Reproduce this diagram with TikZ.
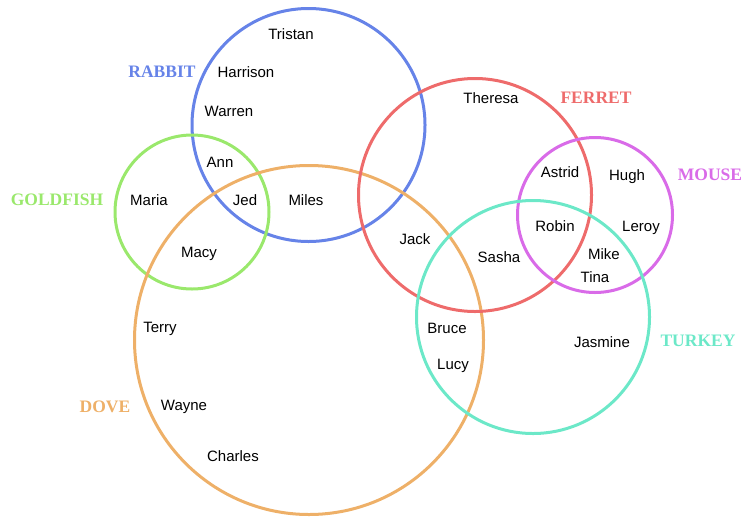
\documentclass[tikz,border=0pt]{standalone}
\usepackage{fontspec}
\setmainfont{Liberation Serif}
\newfontfamily\namefont{Liberation Sans}
\definecolor{rabbit}{HTML}{6683E8}
\definecolor{goldfish}{HTML}{9AE86C}
\definecolor{dove}{HTML}{EEB068}
\definecolor{ferret}{HTML}{EE6B6B}
\definecolor{mouse}{HTML}{D96BE8}
\definecolor{turkey}{HTML}{6CE8C8}
\begin{document}
\begin{tikzpicture}[x=1pt,y=-1pt,line width=3pt]
      \tikzset{
        set/.style={circle,draw=#1,inner sep=0pt},
        tag/.style={text=#1,anchor=base,font=\fontsize{17.5}{17.5}\selectfont\bfseries},
        who/.style={anchor=base,font=\namefont\fontsize{15}{15}\selectfont}
      }
      \useasboundingbox (0,0) rectangle (746,517);
      % sets
      \node[set=rabbit,minimum size=233pt] (rabbit) at (308.5,125) {};
      \node[set=goldfish,minimum size=154pt] (goldfish) at (192,212) {};
      \node[set=dove,minimum size=349pt] (dove) at (309,340) {};
      \node[set=ferret,minimum size=233pt] (ferret) at (475,195) {};
      \node[set=mouse,minimum size=155pt] (mouse) at (595,215) {};
      \node[set=turkey,minimum size=233pt] (turkey) at (533,317) {};

      % set titles (baselines)
      \node[tag=rabbit] (trabbit) at (162,77.5) {RABBIT};
      \node[tag=goldfish] (tgoldfish) at (57,205.5) {GOLDFISH};
      \node[tag=dove] (tdove) at (105,412.5) {DOVE};
      \node[tag=ferret] (tferret) at (596,103.5) {FERRET};
      \node[tag=mouse] (tmouse) at (710,180.5) {MOUSE};
      \node[tag=turkey] (tturkey) at (698,346.5) {TURKEY};

      % members (baselines)
      \foreach \n/\x/\y in {Tristan/291/39.5, Harrison/246/77.5, Warren/229/116.5,
          Ann/220/167.5, Maria/149/205.5, Jed/245/205.5, Miles/306/205.5, Macy/199/257.5,
          Jack/415/244.5, Theresa/491/103.5, Sasha/499/262.5, Astrid/560/177.5,
          Hugh/627/180.5, Robin/555/231.5, Leroy/641/231.5, Mike/604/259.5,
          Tina/595/282.5, Bruce/447/333.5, Lucy/453/369.5, Jasmine/602/347.5,
          Terry/160/332.5, Wayne/184/410.5, Charles/233/461.5}{
          \node[who] (\n) at (\x,\y) {\n};
        }
    \end{tikzpicture}
\end{document}
